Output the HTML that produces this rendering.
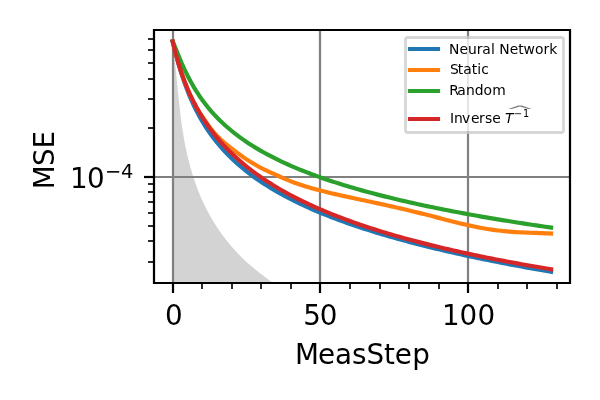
<!DOCTYPE html>
<html lang="en"><head><meta charset="utf-8"><title>MSE vs MeasStep</title>
<style>
html,body{margin:0;padding:0;background:#fff}
svg{display:block;mix-blend-mode:multiply}
text{font-family:"DejaVu Sans","Liberation Sans",sans-serif;fill:#000}
.t10{font-size:27.778px}
.t5{font-size:13.889px}
.ln{fill:none;stroke-width:4.1667;stroke-linecap:square;stroke-linejoin:round}
.sp{fill:none;stroke:#000;stroke-width:2.2222;stroke-linecap:square}
.gr{fill:none;stroke:#808080;stroke-width:2.2222}
.mj{stroke:#000;stroke-width:2.2222}
.mn{stroke:#000;stroke-width:1.6667}
</style></head>
<body>
<svg width="600" height="400" viewBox="0 0 600 400">
<defs><clipPath id="ax"><rect x="153.735" y="30" width="416.265" height="253.444"/></clipPath></defs>
<rect width="600" height="400" fill="#fff"/>
<g clip-path="url(#ax)">
<path d="M172.656 41.4 L175.613 67.636 L178.569 97.822 L181.525 123.815 L184.482 141.702 L187.438 155.821 L190.395 167.37 L193.351 177.168 L196.308 185.747 L199.264 193.428 L202.22 200.34 L205.177 206.614 L208.133 212.365 L211.09 217.678 L214.046 222.62 L217.003 227.244 L219.959 231.592 L222.915 235.693 L225.872 239.571 L228.828 243.248 L231.785 246.742 L234.741 250.069 L237.698 253.242 L240.654 256.275 L243.61 259.178 L246.567 261.954 L249.523 264.592 L252.48 267.113 L255.436 269.543 L258.393 271.903 L261.349 274.21 L264.305 276.478 L267.262 278.718 L270.218 280.938 L273.175 283.129 L276.131 285.29 L279.088 287.42 L282.044 289.518 L285 291.583 L287.957 293.615 L290.913 295 L293.87 295 L296.826 295 L299.783 295 L302.739 295 L305.695 295 L308.652 295 L311.608 295 L314.565 295 L317.521 295 L320.478 295 L323.434 295 L326.39 295 L329.347 295 L332.303 295 L335.26 295 L338.216 295 L341.173 295 L344.129 295 L347.085 295 L350.042 295 L352.998 295 L355.955 295 L358.911 295 L361.868 295 L364.824 295 L367.78 295 L370.737 295 L373.693 295 L376.65 295 L379.606 295 L382.562 295 L385.519 295 L388.475 295 L391.432 295 L394.388 295 L397.345 295 L400.301 295 L403.257 295 L406.214 295 L409.17 295 L412.127 295 L415.083 295 L418.04 295 L420.996 295 L423.952 295 L426.909 295 L429.865 295 L432.822 295 L435.778 295 L438.735 295 L441.691 295 L444.647 295 L447.604 295 L450.56 295 L453.517 295 L456.473 295 L459.43 295 L462.386 295 L465.342 295 L468.299 295 L471.255 295 L474.212 295 L477.168 295 L480.125 295 L483.081 295 L486.037 295 L488.994 295 L491.95 295 L494.907 295 L497.863 295 L500.82 295 L503.776 295 L506.732 295 L509.689 295 L512.645 295 L515.602 295 L518.558 295 L521.515 295 L524.471 295 L527.427 295 L530.384 295 L533.34 295 L536.297 295 L539.253 295 L542.21 295 L545.166 295 L548.122 295 L551.079 295 L551.079 320 L172.656 320 Z" fill="#d3d3d3"/>
<path class="gr" d="M173 283.444 V30"/>
<path class="gr" d="M320 283.444 V30"/>
<path class="gr" d="M468 283.444 V30"/>
<path class="gr" d="M153.735 177 H570"/>
<path class="ln" stroke="#1f77b4" d="M172.656 41.399 L175.613 53.178 L178.569 64.04 L181.525 73.838 L184.482 82.659 L187.438 90.627 L190.395 97.862 L193.351 104.466 L196.308 110.524 L199.264 116.107 L202.22 121.273 L205.177 126.073 L208.133 130.555 L211.09 134.756 L214.046 138.709 L217.003 142.441 L219.959 145.974 L222.915 149.328 L225.872 152.519 L228.828 155.562 L231.785 158.47 L234.741 161.253 L237.698 163.922 L240.654 166.485 L243.61 168.949 L246.567 171.322 L249.523 173.611 L252.48 175.82 L255.436 177.955 L258.393 180.021 L261.349 182.023 L264.305 183.964 L267.262 185.848 L270.218 187.679 L273.175 189.458 L276.131 191.19 L279.088 192.876 L282.044 194.519 L285 196.121 L287.957 197.685 L290.913 199.211 L293.87 200.702 L296.826 202.159 L299.783 203.585 L302.739 204.979 L305.695 206.344 L308.652 207.681 L311.608 208.991 L314.565 210.275 L317.521 211.534 L320.478 212.769 L323.434 213.981 L326.39 215.171 L329.347 216.339 L332.303 217.487 L335.26 218.615 L338.216 219.724 L341.173 220.814 L344.129 221.886 L347.085 222.941 L350.042 223.979 L352.998 225.001 L355.955 226.008 L358.911 226.999 L361.868 227.975 L364.824 228.937 L367.78 229.886 L370.737 230.82 L373.693 231.742 L376.65 232.651 L379.606 233.547 L382.562 234.432 L385.519 235.304 L388.475 236.166 L391.432 237.016 L394.388 237.855 L397.345 238.684 L400.301 239.503 L403.257 240.312 L406.214 241.111 L409.17 241.9 L412.127 242.68 L415.083 243.451 L418.04 244.213 L420.996 244.967 L423.952 245.712 L426.909 246.449 L429.865 247.178 L432.822 247.899 L435.778 248.612 L438.735 249.317 L441.691 250.016 L444.647 250.707 L447.604 251.391 L450.56 252.068 L453.517 252.738 L456.473 253.402 L459.43 254.059 L462.386 254.71 L465.342 255.354 L468.299 255.993 L471.255 256.625 L474.212 257.251 L477.168 257.872 L480.125 258.487 L483.081 259.097 L486.037 259.7 L488.994 260.299 L491.95 260.892 L494.907 261.481 L497.863 262.064 L500.82 262.642 L503.776 263.215 L506.732 263.783 L509.689 264.347 L512.645 264.906 L515.602 265.461 L518.558 266.01 L521.515 266.556 L524.471 267.097 L527.427 267.634 L530.384 268.167 L533.34 268.695 L536.297 269.22 L539.253 269.74 L542.21 270.257 L545.166 270.769 L548.122 271.278 L551.079 271.783"/>
<path class="ln" stroke="#ff7f0e" d="M172.656 41.4 L175.613 52.791 L178.569 63.336 L181.525 72.794 L184.482 81.229 L187.438 88.761 L190.395 95.496 L193.351 101.534 L196.308 106.962 L199.264 111.858 L202.22 116.374 L205.177 120.718 L208.133 124.965 L211.09 128.957 L214.046 132.558 L217.003 135.783 L219.959 138.72 L222.915 141.434 L225.872 143.98 L228.828 146.399 L231.785 148.724 L234.741 150.979 L237.698 153.178 L240.654 155.311 L243.61 157.373 L246.567 159.358 L249.523 161.263 L252.48 163.085 L255.436 164.823 L258.393 166.477 L261.349 168.047 L264.305 169.534 L267.262 170.938 L270.218 172.279 L273.175 173.592 L276.131 174.91 L279.088 176.247 L282.044 177.581 L285 178.886 L287.957 180.143 L290.913 181.336 L293.87 182.466 L296.826 183.538 L299.783 184.558 L302.739 185.53 L305.695 186.46 L308.652 187.352 L311.608 188.208 L314.565 189.032 L317.521 189.828 L320.478 190.597 L323.434 191.343 L326.39 192.068 L329.347 192.776 L332.303 193.468 L335.26 194.146 L338.216 194.813 L341.173 195.471 L344.129 196.121 L347.085 196.764 L350.042 197.403 L352.998 198.038 L355.955 198.671 L358.911 199.302 L361.868 199.932 L364.824 200.563 L367.78 201.196 L370.737 201.83 L373.693 202.466 L376.65 203.106 L379.606 203.75 L382.562 204.398 L385.519 205.051 L388.475 205.709 L391.432 206.372 L394.388 207.041 L397.345 207.716 L400.301 208.398 L403.257 209.086 L406.214 209.78 L409.17 210.482 L412.127 211.19 L415.083 211.905 L418.04 212.627 L420.996 213.357 L423.952 214.094 L426.909 214.838 L429.865 215.589 L432.822 216.348 L435.778 217.114 L438.735 217.887 L441.691 218.665 L444.647 219.442 L447.604 220.214 L450.56 220.978 L453.517 221.731 L456.473 222.47 L459.43 223.194 L462.386 223.901 L465.342 224.588 L468.299 225.255 L471.255 225.899 L474.212 226.518 L477.168 227.113 L480.125 227.68 L483.081 228.219 L486.037 228.73 L488.994 229.209 L491.95 229.658 L494.907 230.073 L497.863 230.456 L500.82 230.804 L503.776 231.116 L506.732 231.394 L509.689 231.641 L512.645 231.858 L515.602 232.048 L518.558 232.215 L521.515 232.362 L524.471 232.493 L527.427 232.613 L530.384 232.726 L533.34 232.835 L536.297 232.944 L539.253 233.056 L542.21 233.174 L545.166 233.301 L548.122 233.44 L551.079 233.594"/>
<path class="ln" stroke="#2ca02c" d="M172.656 41.4 L175.613 48.397 L178.569 55.727 L181.525 62.762 L184.482 69.34 L187.438 75.438 L190.395 81.081 L193.351 86.309 L196.308 91.163 L199.264 95.68 L202.22 99.895 L205.177 103.84 L208.133 107.544 L211.09 111.034 L214.046 114.332 L217.003 117.457 L219.959 120.426 L222.915 123.253 L225.872 125.95 L228.828 128.527 L231.785 130.995 L234.741 133.361 L237.698 135.633 L240.654 137.818 L243.61 139.922 L246.567 141.951 L249.523 143.908 L252.48 145.799 L255.436 147.628 L258.393 149.397 L261.349 151.112 L264.305 152.774 L267.262 154.387 L270.218 155.954 L273.175 157.477 L276.131 158.959 L279.088 160.401 L282.044 161.807 L285 163.178 L287.957 164.515 L290.913 165.82 L293.87 167.095 L296.826 168.34 L299.783 169.559 L302.739 170.75 L305.695 171.917 L308.652 173.059 L311.608 174.178 L314.565 175.274 L317.521 176.35 L320.478 177.404 L323.434 178.439 L326.39 179.455 L329.347 180.452 L332.303 181.431 L335.26 182.394 L338.216 183.34 L341.173 184.27 L344.129 185.185 L347.085 186.084 L350.042 186.97 L352.998 187.841 L355.955 188.699 L358.911 189.544 L361.868 190.376 L364.824 191.196 L367.78 192.004 L370.737 192.8 L373.693 193.585 L376.65 194.36 L379.606 195.123 L382.562 195.876 L385.519 196.619 L388.475 197.353 L391.432 198.076 L394.388 198.791 L397.345 199.497 L400.301 200.193 L403.257 200.881 L406.214 201.561 L409.17 202.233 L412.127 202.896 L415.083 203.552 L418.04 204.2 L420.996 204.841 L423.952 205.474 L426.909 206.101 L429.865 206.72 L432.822 207.333 L435.778 207.939 L438.735 208.539 L441.691 209.132 L444.647 209.72 L447.604 210.301 L450.56 210.876 L453.517 211.445 L456.473 212.009 L459.43 212.567 L462.386 213.119 L465.342 213.666 L468.299 214.208 L471.255 214.745 L474.212 215.277 L477.168 215.804 L480.125 216.326 L483.081 216.843 L486.037 217.355 L488.994 217.863 L491.95 218.366 L494.907 218.865 L497.863 219.36 L500.82 219.85 L503.776 220.336 L506.732 220.818 L509.689 221.296 L512.645 221.77 L515.602 222.24 L518.558 222.706 L521.515 223.169 L524.471 223.627 L527.427 224.082 L530.384 224.533 L533.34 224.981 L536.297 225.426 L539.253 225.866 L542.21 226.304 L545.166 226.738 L548.122 227.169 L551.079 227.597"/>
<path class="ln" stroke="#d62728" d="M172.656 41.399 L175.613 53.519 L178.569 63.979 L181.525 73.147 L184.482 81.3 L187.438 88.636 L190.395 95.303 L193.351 101.412 L196.308 107.049 L199.264 112.282 L202.22 117.163 L205.177 121.738 L208.133 126.041 L211.09 130.103 L214.046 133.949 L217.003 137.601 L219.959 141.077 L222.915 144.393 L225.872 147.563 L228.828 150.598 L231.785 153.51 L234.741 156.308 L237.698 159 L240.654 161.593 L243.61 164.096 L246.567 166.512 L249.523 168.849 L252.48 171.111 L255.436 173.302 L258.393 175.427 L261.349 177.489 L264.305 179.493 L267.262 181.44 L270.218 183.334 L273.175 185.177 L276.131 186.973 L279.088 188.724 L282.044 190.43 L285 192.096 L287.957 193.722 L290.913 195.31 L293.87 196.862 L296.826 198.38 L299.783 199.864 L302.739 201.317 L305.695 202.739 L308.652 204.131 L311.608 205.496 L314.565 206.833 L317.521 208.144 L320.478 209.43 L323.434 210.692 L326.39 211.93 L329.347 213.145 L332.303 214.339 L335.26 215.511 L338.216 216.663 L341.173 217.795 L344.129 218.908 L347.085 220.002 L350.042 221.078 L352.998 222.137 L355.955 223.179 L358.911 224.205 L361.868 225.214 L364.824 226.208 L367.78 227.187 L370.737 228.151 L373.693 229.101 L376.65 230.037 L379.606 230.96 L382.562 231.869 L385.519 232.766 L388.475 233.65 L391.432 234.522 L394.388 235.383 L397.345 236.231 L400.301 237.069 L403.257 237.895 L406.214 238.711 L409.17 239.516 L412.127 240.311 L415.083 241.096 L418.04 241.871 L420.996 242.637 L423.952 243.393 L426.909 244.14 L429.865 244.879 L432.822 245.608 L435.778 246.329 L438.735 247.042 L441.691 247.746 L444.647 248.443 L447.604 249.131 L450.56 249.812 L453.517 250.486 L456.473 251.152 L459.43 251.81 L462.386 252.462 L465.342 253.107 L468.299 253.745 L471.255 254.376 L474.212 255 L477.168 255.619 L480.125 256.23 L483.081 256.836 L486.037 257.436 L488.994 258.029 L491.95 258.617 L494.907 259.199 L497.863 259.775 L500.82 260.346 L503.776 260.911 L506.732 261.471 L509.689 262.025 L512.645 262.575 L515.602 263.119 L518.558 263.658 L521.515 264.192 L524.471 264.722 L527.427 265.246 L530.384 265.766 L533.34 266.282 L536.297 266.792 L539.253 267.298 L542.21 267.8 L545.166 268.298 L548.122 268.791 L551.079 269.28"/>
</g>
<g class="mj"><path d="M173 283 V293"/><path d="M320 283 V293"/><path d="M468 283 V293"/><path d="M154 177 H144"/></g>
<g class="mn"><path d="M202 283 V289"/><path d="M232 283 V289"/><path d="M261 283 V289"/><path d="M291 283 V289"/><path d="M350 283 V289"/><path d="M380 283 V289"/><path d="M409 283 V289"/><path d="M439 283 V289"/><path d="M498 283 V289"/><path d="M527 283 V289"/><path d="M557 283 V289"/><path d="M154 262 H148"/><path d="M154 241 H148"/><path d="M154 226 H148"/><path d="M154 213 H148"/><path d="M154 202 H148"/><path d="M154 192 H148"/><path d="M154 184 H148"/><path d="M154 128 H148"/><path d="M154 99 H148"/><path d="M154 79 H148"/><path d="M154 63 H148"/><path d="M154 50 H148"/><path d="M154 39 H148"/></g>
<path class="sp" d="M154 283 V30 M570 283 V30 M154 283 H570 M154 30 H570"/>
<text class="t10" x="165.06" y="325.04" dx="-0.04">0</text>
<text class="t10" x="302.64" y="325.04" dx="0.505 -1.15">50</text>
<text class="t10" x="441.75" y="325.04" dx="0.244 -0.08 0.19">100</text>
<text class="t10" x="294.21" y="363.98" dx="0.813 -1.016 0.019 -0.018 -0.002 -0.116 -0.081 0.211">MeasStep</text>
<text class="t10" x="-29.56" transform="translate(54.055 160.33) rotate(-90)" dx="0.744 -0.764 -0.164">MSE</text>
<text class="t10" transform="translate(69.09 188.48)"><tspan x="0.834" y="-0.178">1</tspan><tspan x="18.022" y="-0.178">0</tspan><tspan x="35.814" y="-10.812" font-size="19.444">−</tspan><tspan x="51.965" y="-10.812" font-size="19.444">4</tspan></text>
<path d="M407.8 37.5 H561.2 Q563.5 37.5 563.5 39.8 V130.2 Q563.5 132.5 561.2 132.5 H407.8 Q405.5 132.5 405.5 130.2 V39.8 Q405.5 37.5 407.8 37.5 Z" fill="#fff" stroke="#ccc" stroke-width="2.7778" opacity="0.8"/>
<path class="ln" stroke="#1f77b4" d="M410 49 H438"/>
<path class="ln" stroke="#ff7f0e" d="M410 70 H438"/>
<path class="ln" stroke="#2ca02c" d="M410 91 H438"/>
<path class="ln" stroke="#d62728" d="M410 119 H438"/>
<text class="t5" x="449.125" y="53.5" dx="-0.107 0.007 0.01 -0.043 -0.146 0.227 0.052 -0.052 0.036 -0.142 -0.063 0.181 -0.071 0.043">Neural Network</text>
<text class="t5" x="449.125" y="74.444" dx="0.899 -0.988 -0.042 0.06 -0.014 0.049">Static</text>
<text class="t5" x="449.125" y="95.389" dx="0.027 -1.159 0.189 0.01 -0.132 0.129">Random</text>
<text class="t5" transform="translate(449.125 122.6)"><tspan x="0" y="0" dx="0.765 0.031 -0.928 0.919 -0.555 0.283 -0.118">Inverse</tspan><tspan x="55.837" y="0" font-style="oblique">T</tspan><tspan x="64.849" y="-5.317" font-size="9.722">−</tspan><tspan x="73.857" y="-5.317" font-size="9.722">1</tspan></text>
<text font-size="10" transform="translate(520 115.4) scale(3.75 1.195)" text-anchor="middle" x="0" y="0" style="fill-opacity:.5">^</text>
</svg>
</body></html>
